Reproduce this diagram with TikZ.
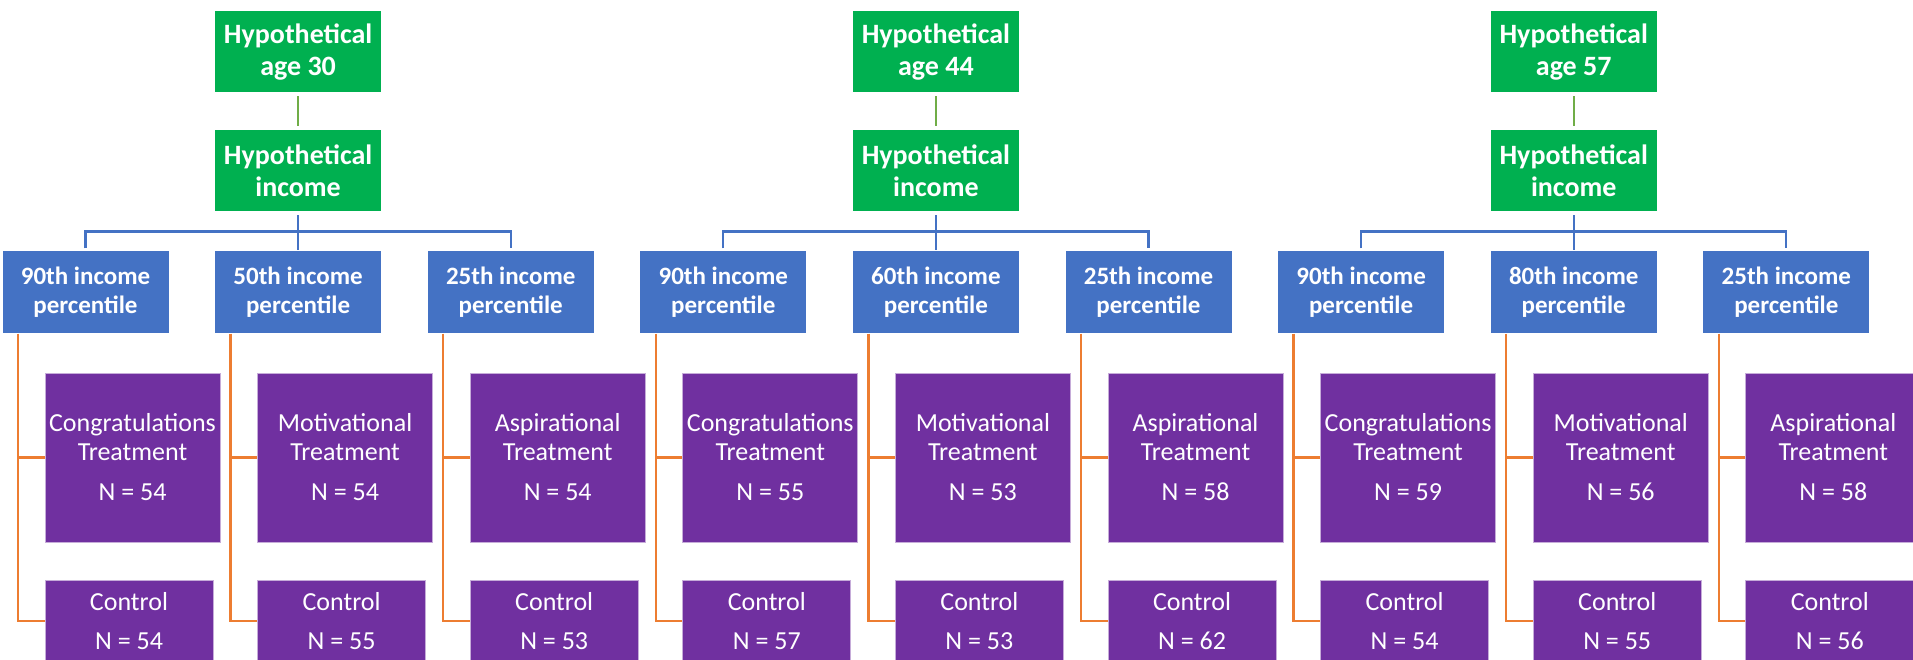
\documentclass[tikz,border=0pt]{standalone}
\usepackage{fontspec}
\setmainfont{Carlito}
\usetikzlibrary{positioning}

\definecolor{agegreen}{HTML}{00B050}
\definecolor{linkgreen}{HTML}{70AD47}
\definecolor{pctblue}{HTML}{4472C4}
\definecolor{armpurple}{HTML}{7030A0}
\definecolor{armorange}{HTML}{ED7D31}

\tikzset{
  box/.style={draw=white,line width=1pt,text=white,align=center,inner sep=0pt},
  agebox/.style={box,fill=agegreen,minimum width=167pt,minimum height=82pt,
    font=\fontsize{28}{32}\selectfont\bfseries},
  pctbox/.style={box,fill=pctblue,minimum width=167pt,minimum height=82pt,
    font=\fontsize{25}{29}\selectfont\bfseries},
  treatbox/.style={box,draw=armpurple!40!white,fill=armpurple,minimum width=175pt,
    minimum height=169pt,font=\fontsize{26}{28.5}\selectfont},
  ctrlbox/.style={treatbox,minimum width=168pt,minimum height=82pt},
  greenlink/.style={draw=linkgreen,line width=2pt},
  bluelink/.style={draw=pctblue,line width=2.2pt},
  orangelink/.style={draw=armorange,line width=2.5pt}
}

\begin{document}
\begin{tikzpicture}[x=1pt,y=1pt,node distance=39pt]
  \useasboundingbox (0,0) rectangle (1913,-660);

  % percentile row
  \node[pctbox] (p1) at (85.5,-292) {90th income\\percentile};
  \node[pctbox,right=44.6pt of p1] (p2) {50th income\\percentile};
  \node[pctbox,right=44.6pt of p2] (p3) {25th income\\percentile};
  \node[pctbox,right=44.6pt of p3] (p4) {90th income\\percentile};
  \node[pctbox,right=44.6pt of p4] (p5) {60th income\\percentile};
  \node[pctbox,right=44.6pt of p5] (p6) {25th income\\percentile};
  \node[pctbox,right=44.6pt of p6] (p7) {90th income\\percentile};
  \node[pctbox,right=44.6pt of p7] (p8) {80th income\\percentile};
  \node[pctbox,right=44.6pt of p8] (p9) {25th income\\percentile};

  % income and age boxes
  \node[agebox,above=38pt of p2] (inc1) {Hypothetical\\income};
  \node[agebox,above=38pt of p5] (inc2) {Hypothetical\\income};
  \node[agebox,above=38pt of p8] (inc3) {Hypothetical\\income};
  \node[agebox,above=36pt of inc1] (age1) {Hypothetical\\age 30};
  \node[agebox,above=36pt of inc2] (age2) {Hypothetical\\age 44};
  \node[agebox,above=36pt of inc3] (age3) {Hypothetical\\age 57};

  % treatment arms
  \node[treatbox,below=of p1,xshift=47pt] (t1) {Congratulations\\Treatment\\[12pt]N = 54};
  \node[treatbox,below=of p2,xshift=47pt] (t2) {Motivational\\Treatment\\[12pt]N = 54};
  \node[treatbox,below=of p3,xshift=47pt] (t3) {Aspirational\\Treatment\\[12pt]N = 54};
  \node[treatbox,below=of p4,xshift=47pt] (t4) {Congratulations\\Treatment\\[12pt]N = 55};
  \node[treatbox,below=of p5,xshift=47pt] (t5) {Motivational\\Treatment\\[12pt]N = 53};
  \node[treatbox,below=of p6,xshift=47pt] (t6) {Aspirational\\Treatment\\[12pt]N = 58};
  \node[treatbox,below=of p7,xshift=47pt] (t7) {Congratulations\\Treatment\\[12pt]N = 59};
  \node[treatbox,below=of p8,xshift=47pt] (t8) {Motivational\\Treatment\\[12pt]N = 56};
  \node[treatbox,below=of p9,xshift=47pt] (t9) {Aspirational\\Treatment\\[12pt]N = 58};

  % control arms
  \node[ctrlbox,below=37pt of t1.south west,anchor=north west] (c1) {Control\\[10pt]N = 54};
  \node[ctrlbox,below=37pt of t2.south west,anchor=north west] (c2) {Control\\[10pt]N = 55};
  \node[ctrlbox,below=37pt of t3.south west,anchor=north west] (c3) {Control\\[10pt]N = 53};
  \node[ctrlbox,below=37pt of t4.south west,anchor=north west] (c4) {Control\\[10pt]N = 57};
  \node[ctrlbox,below=37pt of t5.south west,anchor=north west] (c5) {Control\\[10pt]N = 53};
  \node[ctrlbox,below=37pt of t6.south west,anchor=north west] (c6) {Control\\[10pt]N = 62};
  \node[ctrlbox,below=37pt of t7.south west,anchor=north west] (c7) {Control\\[10pt]N = 54};
  \node[ctrlbox,below=37pt of t8.south west,anchor=north west] (c8) {Control\\[10pt]N = 55};
  \node[ctrlbox,below=37pt of t9.south west,anchor=north west] (c9) {Control\\[10pt]N = 56};

  % connectors
  \foreach \g/\a/\b/\c in {1/1/2/3,2/4/5/6,3/7/8/9} {
    \draw[greenlink,shorten <=3pt,shorten >=3pt] (age\g) -- (inc\g);
    \draw[bluelink,shorten <=3pt] (inc\g) -- (p\b);
    \draw[bluelink,shorten <=2pt] (p\a.north) -- ++(0,19) -| ([yshift=2pt]p\c.north);
  }
  \foreach \i in {1,...,9} {
    \draw[orangelink] ([xshift=-67.5pt,yshift=-3pt]p\i.south) |- (c\i.west);
    \draw[orangelink] ([xshift=-67.5pt]p\i.south) |- (t\i.west);
  }
\end{tikzpicture}
\end{document}
